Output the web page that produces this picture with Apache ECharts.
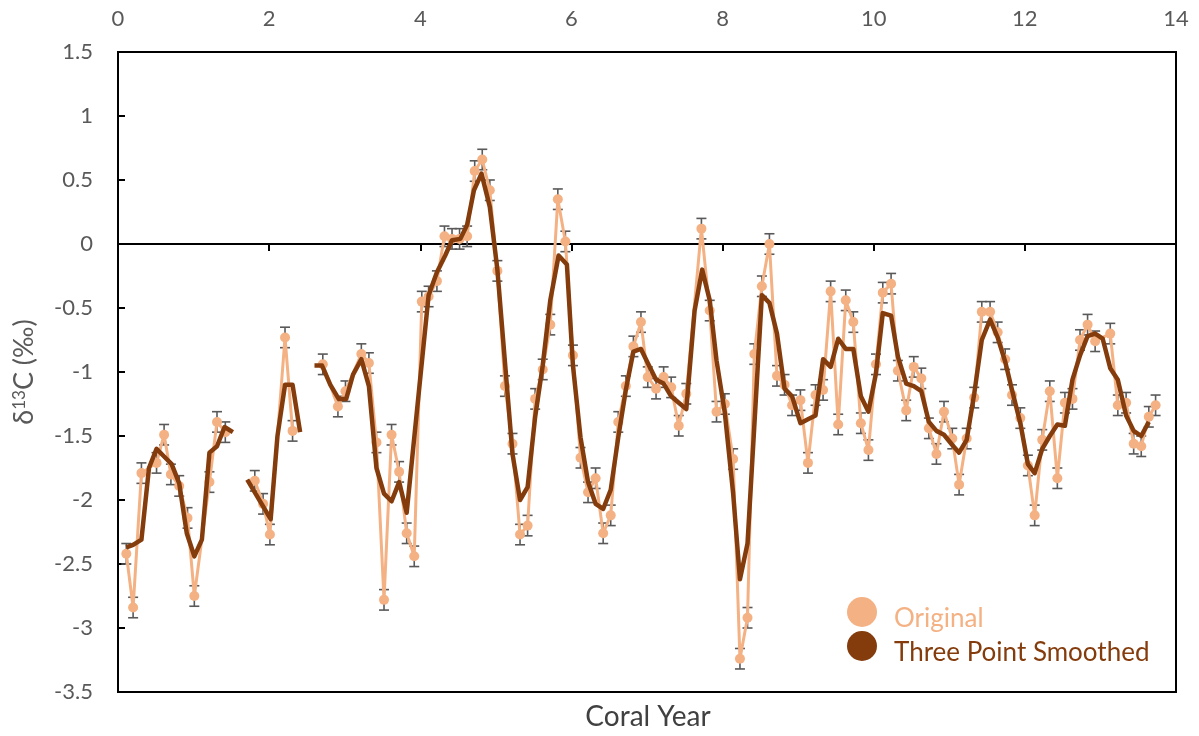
<!DOCTYPE html>
<html>
<head>
<meta charset="utf-8">
<script src="https://cdn.jsdelivr.net/npm/echarts@6/dist/echarts.min.js"></script>
<style>
html,body{margin:0;padding:0;background:#fff;}
#chart{width:1199px;height:736px;}
</style>
</head>
<body>
<div id="chart"></div>
<script>
// ---- data ----
// null in Y marks a gap in the record
const origX = [0.11,0.20,0.31,0.51,0.61,0.70,0.81,0.92,1.01,1.21,1.31,1.42,1.6,
  1.81,1.92,2.01,2.21,2.31,2.5,
  2.71,2.91,3.01,3.22,3.32,3.42,3.52,3.62,3.72,3.82,3.92,4.02,4.11,4.22,4.32,4.42,4.52,4.62,4.72,4.82,4.92,
  5.02,5.12,5.22,5.32,5.42,5.52,5.62,5.72,5.82,5.92,6.02,6.12,6.22,6.32,6.42,6.52,6.62,6.72,6.82,6.92,
  7.01,7.12,7.22,7.32,7.42,7.52,7.72,7.83,7.92,8.03,8.14,8.23,8.33,8.42,8.52,8.62,8.72,8.82,8.92,
  9.03,9.13,9.23,9.33,9.43,9.53,9.63,9.73,9.83,9.93,10.03,10.12,10.23,10.32,10.43,10.53,10.63,10.73,10.83,10.93,
  11.04,11.13,11.23,11.33,11.43,11.54,11.64,11.74,11.83,11.94,12.04,12.13,12.23,12.33,12.43,12.53,12.63,12.73,12.83,12.93,
  13.13,13.23,13.34,13.44,13.54,13.64,13.73];
const origY = [-2.42,-2.84,-1.79,-1.71,-1.49,-1.80,-1.89,-2.14,-2.75,-1.86,-1.39,-1.47,null,
  -1.85,-2.03,-2.27,-0.73,-1.46,null,
  -0.94,-1.27,-1.15,-0.86,-0.93,-1.55,-2.78,-1.49,-1.78,-2.26,-2.44,-0.45,-0.41,-0.29,0.06,0.04,0.04,0.06,0.57,0.66,0.42,
  -0.21,-1.11,-1.56,-2.27,-2.20,-1.21,-0.98,-0.63,0.35,0.02,-0.87,-1.67,-1.94,-1.83,-2.26,-2.12,-1.39,-1.11,-0.80,-0.61,
  -1.04,-1.13,-1.04,-1.12,-1.42,-1.17,0.12,-0.52,-1.31,-1.25,-1.68,-3.24,-2.92,-0.86,-0.33,0.00,-1.03,-1.10,-1.26,
  -1.22,-1.71,-1.18,-1.14,-0.37,-1.41,-0.44,-0.61,-1.40,-1.61,-0.94,-0.38,-0.31,-0.99,-1.30,-0.96,-1.05,-1.44,-1.64,-1.31,
  -1.52,-1.88,-1.52,-1.20,-0.53,-0.53,-0.69,-0.90,-1.18,-1.36,-1.73,-2.12,-1.53,-1.15,-1.83,-1.24,-1.21,-0.75,-0.63,-0.76,
  -0.70,-1.26,-1.24,-1.56,-1.58,-1.35,-1.26];
const origErr = 0.08;

const smoothX = [0.11,0.20,0.31,0.41,0.51,0.61,0.71,0.81,0.91,1.01,1.11,1.21,1.31,1.41,1.52,1.6,
  1.71,2.02,2.11,2.21,2.31,2.41,2.5,
  2.60,2.70,2.81,2.92,3.02,3.11,3.22,3.32,3.42,3.52,3.62,3.72,3.82,4.11,4.22,4.33,4.42,4.53,4.62,4.71,4.81,4.92,
  5.02,5.22,5.32,5.42,5.52,5.62,5.72,5.83,5.94,6.02,6.12,6.22,6.32,6.42,6.52,6.62,6.72,6.82,6.92,
  7.01,7.12,7.22,7.32,7.42,7.52,7.63,7.73,7.83,7.92,8.03,8.14,8.23,8.33,8.52,8.62,8.72,8.82,8.92,
  9.03,9.13,9.23,9.33,9.43,9.53,9.63,9.73,9.83,9.93,10.03,10.12,10.23,10.32,10.43,10.53,10.63,10.73,10.83,10.93,
  11.04,11.13,11.23,11.33,11.43,11.54,11.64,11.74,11.83,11.94,12.04,12.13,12.23,12.33,12.43,12.53,12.63,12.73,12.83,12.93,
  13.03,13.13,13.23,13.34,13.44,13.54,13.64];
const smoothY = [-2.37,-2.35,-2.31,-1.75,-1.60,-1.66,-1.72,-1.87,-2.26,-2.44,-2.31,-1.63,-1.58,-1.43,-1.47,null,
  -1.84,-2.15,-1.50,-1.10,-1.10,-1.47,null,
  -0.95,-0.95,-1.10,-1.21,-1.21,-1.02,-0.90,-1.11,-1.75,-1.95,-2.01,-1.86,-2.10,-0.40,-0.22,-0.09,0.03,0.04,0.15,0.42,0.55,0.29,
  -0.20,-1.64,-2.00,-1.90,-1.35,-0.95,-0.44,-0.09,-0.16,-0.95,-1.51,-1.86,-2.03,-2.07,-1.92,-1.51,-1.14,-0.84,-0.82,
  -0.93,-1.06,-1.09,-1.19,-1.24,-1.29,-0.52,-0.20,-0.44,-0.91,-1.32,-1.95,-2.62,-2.34,-0.40,-0.46,-0.70,-1.13,-1.19,
  -1.40,-1.37,-1.34,-0.90,-0.96,-0.74,-0.82,-0.82,-1.19,-1.31,-1.01,-0.54,-0.56,-0.88,-1.09,-1.11,-1.15,-1.39,-1.46,-1.49,
  -1.57,-1.63,-1.53,-1.17,-0.75,-0.59,-0.73,-0.92,-1.14,-1.40,-1.72,-1.79,-1.60,-1.50,-1.41,-1.42,-1.06,-0.87,-0.72,-0.70,
  -0.74,-0.97,-1.06,-1.34,-1.46,-1.50,-1.39];

const xTicks = {min: 0, max: 14, interval: 2};
const yTicks = {min: -3.5, max: 1.5, interval: 0.5};
const seriesNames = ['Original', 'Three Point Smoothed'];
const axisTitles = {x: 'Coral Year'};

// ---- build ----
const ORANGE = '#F4B183', BROWN = '#843C0C', GREY = '#595959';
const pair = (xs, ys) => xs.map((x, i) => ys[i] === null ? [x, '-'] : [x, ys[i]]);
const origData = pair(origX, origY);
const smoothData = pair(smoothX, smoothY);
const errData = [];
origX.forEach((x, i) => { if (origY[i] !== null) errData.push([x, origY[i] - origErr, origY[i] + origErr]); });

const chart = echarts.init(document.getElementById('chart'), null, {renderer: 'canvas'});
const FONT = 'Lato';
chart.setOption({
  animation: false,
  backgroundColor: '#fff',
  grid: {left: 118, right: 23, top: 52, bottom: 44, show: true, borderColor: '#000', borderWidth: 2, backgroundColor: 'transparent'},
  xAxis: [
    {type: 'value', position: 'top', min: xTicks.min, max: xTicks.max, interval: xTicks.interval,
     axisLine: {show: false}, axisTick: {show: false}, splitLine: {show: false},
     axisLabel: {color: GREY, fontFamily: FONT, fontSize: 22, margin: 22}},
    {type: 'value', position: 'bottom', min: xTicks.min, max: xTicks.max, interval: xTicks.interval,
     axisLine: {show: true, onZero: true, onZeroAxisIndex: 0, lineStyle: {color: '#000', width: 2}},
     axisTick: {show: true, length: 7, lineStyle: {color: '#000', width: 2}},
     axisLabel: {show: false}, splitLine: {show: false}}
  ],
  yAxis: {
    type: 'value', min: yTicks.min, max: yTicks.max, interval: yTicks.interval,
    axisLine: {show: true, onZero: false, lineStyle: {color: '#000', width: 2}},
    axisTick: {show: true, inside: true, length: 7, lineStyle: {color: '#000', width: 2}},
    splitLine: {show: false},
    axisLabel: {color: GREY, fontFamily: FONT, fontSize: 22, margin: 25},
    name: '{a|δ}{b|13}{a|C (‰)}', nameLocation: 'middle', nameRotate: 90, nameGap: 80,
    nameTextStyle: {rich: {
      a: {color: GREY, fontFamily: FONT, fontSize: 27},
      b: {color: GREY, fontFamily: FONT, fontSize: 17, verticalAlign: 'top', padding: [0, 0, 10, 0]}
    }}
  },
  series: [
    {type: 'custom', name: 'err', xAxisIndex: 0, z: 2, silent: true,
     renderItem: function (params, api) {
       const x = api.value(0);
       const p1 = api.coord([x, api.value(2)]);
       const p2 = api.coord([x, api.value(1)]);
       const w = 5;
       const st = {stroke: GREY, lineWidth: 1.6};
       return {type: 'group', children: [
         {type: 'line', shape: {x1: p1[0], y1: p1[1], x2: p2[0], y2: p2[1]}, style: st},
         {type: 'line', shape: {x1: p1[0] - w, y1: p1[1], x2: p1[0] + w, y2: p1[1]}, style: st},
         {type: 'line', shape: {x1: p2[0] - w, y1: p2[1], x2: p2[0] + w, y2: p2[1]}, style: st}
       ]};
     },
     encode: {x: 0, y: [1, 2]},
     data: errData},
    {type: 'line', name: seriesNames[0], xAxisIndex: 0, z: 3, data: origData,
     symbol: 'circle', symbolSize: 10, showSymbol: true, connectNulls: false,
     itemStyle: {color: ORANGE}, lineStyle: {color: ORANGE, width: 3}},
    {type: 'line', name: seriesNames[1], xAxisIndex: 0, z: 5, data: smoothData,
     symbol: 'none', showSymbol: false, connectNulls: false,
     itemStyle: {color: BROWN}, lineStyle: {color: BROWN, width: 4.5, join: 'round'}}
  ],
  graphic: [
    {type: 'circle', shape: {cx: 862, cy: 612, r: 15}, style: {fill: ORANGE}, z: 10},
    {type: 'circle', shape: {cx: 862, cy: 646, r: 15}, style: {fill: BROWN}, z: 10},
    {type: 'text', x: 894, y: 619, style: {text: seriesNames[0], fill: ORANGE, font: '26px Lato', textVerticalAlign: 'middle'}, z: 10},
    {type: 'text', x: 894, y: 653, style: {text: seriesNames[1], fill: BROWN, font: '26px Lato', textVerticalAlign: 'middle'}, z: 10},
    {type: 'text', x: 648, y: 717, style: {text: axisTitles.x, fill: '#404040', font: '28px Lato', textAlign: 'center', textVerticalAlign: 'middle'}, z: 10}
  ]
});
</script>
</body>
</html>
